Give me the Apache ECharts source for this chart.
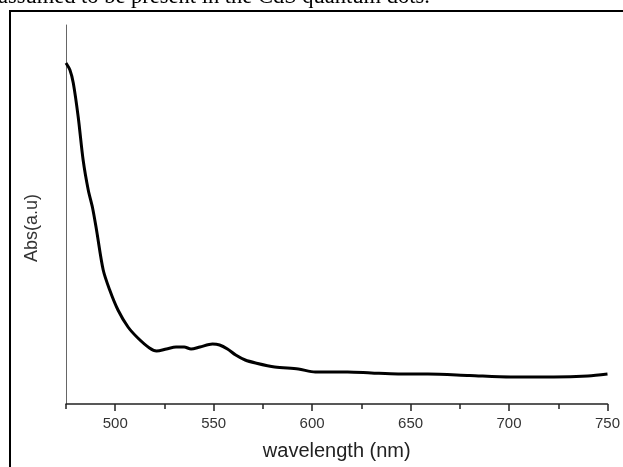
<!DOCTYPE html>
<html>
<head>
<meta charset="utf-8">
<script src="https://cdn.jsdelivr.net/npm/echarts@6/dist/echarts.min.js"></script>
<style>
html,body{margin:0;padding:0;background:#fff;}
#chart{width:623px;height:467px;}
</style>
</head>
<body>
<div id="chart"></div>
<script>
// Data (absorbance in arbitrary units)
const wavelength = [475, 477, 478.7, 481.2, 483.7, 486.3, 488.5, 490.5, 493.9, 497.2, 501.4, 506.5, 511.5, 517.4, 521, 526, 530.9, 535, 538.5, 543, 549.4, 553, 557, 561.2, 566, 571.3, 581, 593, 601.6, 610, 618, 630, 643.7, 658.8, 680, 700.9, 722.8, 740, 750];
const absorbance = [341, 334, 321, 287, 244, 214, 196, 174, 134, 114, 94, 77, 66, 56, 53, 55, 57, 57, 55, 57, 60, 59, 55, 49, 44, 41, 37, 35, 32, 32, 32, 31, 30, 30, 28.5, 27, 27, 28, 30];
const majorTicks = [500, 550, 600, 650, 700, 750];
const minorTicks = [475, 525, 575, 625, 675, 725];
const xName = 'wavelength (nm)';
const yName = 'Abs(a.u)';
const caption = 'assumed to be present in the CdS quantum dots.';

const points = wavelength.map((w, i) => [w, absorbance[i]]);
const chart = echarts.init(document.getElementById('chart'));
const font = 'Liberation Sans, Arial, sans-serif';
chart.setOption({
  animation: false,
  backgroundColor: '#fff',
  grid: { left: 66, right: 12, top: 25, bottom: 63 },
  xAxis: [{
    type: 'value', min: 475, max: 750, interval: 25,
    splitLine: { show: false },
    axisLine: { lineStyle: { color: '#222', width: 1.5 } },
    axisTick: { show: true, length: 7, customValues: majorTicks, lineStyle: { color: '#222', width: 1.5 } },
    axisLabel: { customValues: majorTicks, color: '#333', fontFamily: font, fontSize: 15, margin: 12 },
    name: xName, nameLocation: 'middle', nameGap: 37,
    nameTextStyle: { color: '#222', fontFamily: font, fontSize: 20 }
  }, {
    type: 'value', min: 475, max: 750, interval: 25, position: 'bottom',
    splitLine: { show: false },
    axisLine: { show: false },
    axisTick: { show: true, length: 5, customValues: minorTicks, lineStyle: { color: '#222', width: 1.5 } },
    axisLabel: { show: false }
  }],
  yAxis: {
    type: 'value', min: 0, max: 379,
    splitLine: { show: false },
    axisLine: { show: true, lineStyle: { color: '#666', width: 1 } },
    axisTick: { show: false },
    axisLabel: { show: false }
  },
  graphic: [
    { type: 'rect', shape: { x: 10, y: 11, width: 700, height: 500 }, style: { fill: null, stroke: '#000', lineWidth: 2 }, silent: true },
    { type: 'text', x: -2, y: 9, style: { text: caption, font: '22.5px "Liberation Serif", "Times New Roman", serif', fill: '#000', textVerticalAlign: 'bottom' } },
    { type: 'text', x: 32, y: 228, rotation: Math.PI / 2, style: { text: yName, font: '18px ' + font, fill: '#333', textAlign: 'center', textVerticalAlign: 'middle' } }
  ],
  series: [{
    type: 'line', data: points, smooth: 0.3, showSymbol: false, xAxisIndex: 0,
    lineStyle: { color: '#000', width: 3 }
  }]
});
</script>
</body>
</html>
